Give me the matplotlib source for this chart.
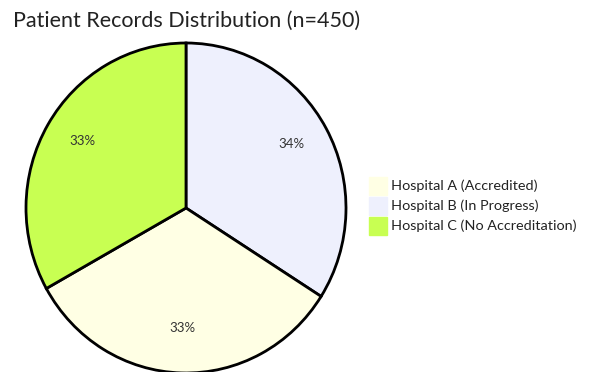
import numpy as np
import matplotlib.pyplot as plt
from matplotlib.patches import Rectangle

# data
labels = ["Hospital A (Accredited)", "Hospital B (In Progress)", "Hospital C (No Accreditation)"]
counts = [148, 153, 149]
colors = ["#FFFFE4", "#EEF0FD", "#C8FF52"]
title = "Patient Records Distribution (n=450)"
# slice order drawn clockwise from 12 o'clock, as in the reference
draw_order = [1, 0, 2]

plt.rcParams['font.family'] = ['Lato', 'DejaVu Sans']

W, H = 591, 372
fig = plt.figure(figsize=(W / 100, H / 100), dpi=100)

# pie axes placed in pixels: centre (186, 208); reference is slightly stretched vertically
cx, cy, rx, ry = 186, 208, 160, 165
ax = fig.add_axes([(cx - rx) / W, (H - cy - ry) / H, 2 * rx / W, 2 * ry / H])

vals = [counts[i] for i in draw_order]
cols = [colors[i] for i in draw_order]
total = sum(counts)

wedges, texts = ax.pie(vals, colors=cols, startangle=90, counterclock=False, radius=1,
                       wedgeprops=dict(edgecolor='black', linewidth=2))
for w, v in zip(wedges, vals):
    ang = np.deg2rad((w.theta1 + w.theta2) / 2)
    ax.text(0.75 * np.cos(ang), 0.75 * np.sin(ang), f"{round(100 * v / total)}%",
            ha='center', va='baseline', fontsize=9.5, color='#333333')

ax.set_xlim(-1, 1)
ax.set_ylim(-1, 1)
ax.set_aspect('auto')
ax.axis('off')
for w in wedges:
    w.set_clip_on(False)

# overlay in pixel coords for title and legend
ov = fig.add_axes([0, 0, 1, 1])
ov.set_xlim(0, W)
ov.set_ylim(H, 0)
ov.axis('off')
ov.patch.set_alpha(0)

ov.text(13, 21, title, fontsize=15.5, color='#222222', ha='left', va='center')

for k, (lab, c) in enumerate(zip(labels, colors)):
    y = 186 + 20 * k
    ov.add_patch(Rectangle((369, y - 9), 18, 18, facecolor=c, edgecolor=c, lw=1))
    ov.text(391, y, lab, fontsize=10.4, color='#222222', ha='left', va='center')

fig.savefig("out.png", dpi=100)
